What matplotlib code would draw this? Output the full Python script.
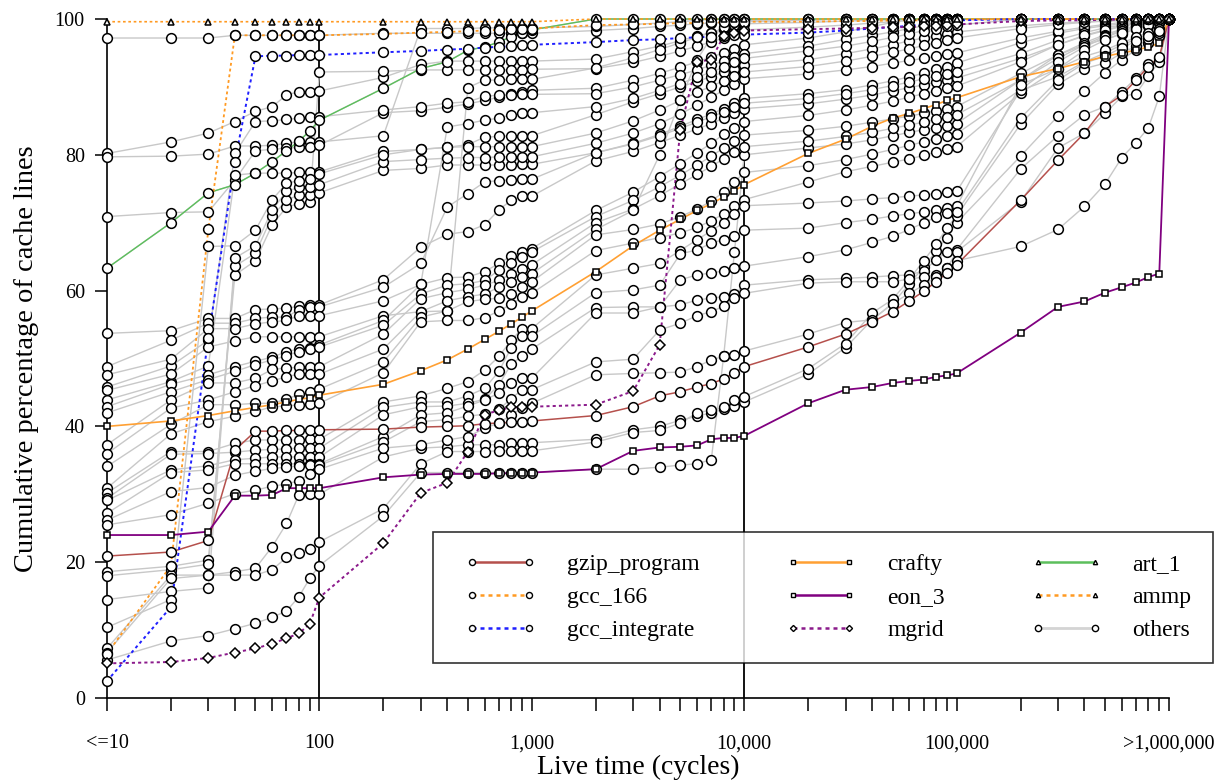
import matplotlib
matplotlib.use("Agg")
import matplotlib.pyplot as plt
from matplotlib.lines import Line2D
from matplotlib.legend_handler import HandlerLine2D
from matplotlib.ticker import FixedLocator, FixedFormatter, NullFormatter

plt.rcParams['font.family'] = ['Liberation Serif', 'DejaVu Serif']

# live time buckets (cycles)
live_time = [10, 20, 30, 40, 50, 60, 70, 80, 90, 100,
             200, 300, 400, 500, 600, 700, 800, 900, 1000,
             2000, 3000, 4000, 5000, 6000, 7000, 8000, 9000, 10000,
             20000, 30000, 40000, 50000, 60000, 70000, 80000, 90000, 100000,
             200000, 300000, 400000, 500000, 600000, 700000, 800000, 900000, 1000000]

tick_values = [10, 100, 1000, 10000, 100000, 1000000]
tick_labels = ['<=10', '100', '1,000', '10,000', '100,000', '>1,000,000']

# cumulative percentage of cache lines per benchmark
gzip_program = [20.9, 21.5, 23.2, 36.5, 39.3, 39.3, 39.4, 39.4, 39.4, 39.5,
                39.6, 39.9, 40.0, 40.1, 40.4, 40.5, 40.6, 40.7, 40.8,
                41.6, 42.9, 44.5, 45.1, 45.8, 46.3, 47.0, 47.9, 48.8,
                51.7, 53.6, 55.4, 56.9, 58.5, 59.9, 61.3, 62.6, 63.8,
                73.3, 79.2, 83.2, 87.1, 88.8, 91.0, 93.0, 94.4, 100.0]
gcc_166 = [6.5, 19.5, 69.0, 97.6, 97.6, 97.6, 97.6, 97.6, 97.6, 97.6,
           97.8, 98.0, 98.1, 98.2, 98.3, 98.4, 98.5, 98.5, 98.6,
           99.1, 99.2, 99.3, 99.4, 99.4, 99.5, 99.5, 99.6, 99.6,
           99.6, 99.7, 99.7, 99.8, 99.8, 99.8, 99.9, 99.9, 99.9,
           100, 100, 100, 100, 100, 100, 100, 100, 100]
gcc_integrate = [2.5, 13.4, 53.0, 79.0, 94.5, 94.6, 94.6, 94.7, 94.7, 94.7,
                 95.1, 95.3, 95.5, 95.6, 95.8, 95.9, 96.0, 96.1, 96.2,
                 96.6, 96.9, 97.0, 97.2, 97.3, 97.4, 97.5, 97.6, 97.7,
                 98.0, 98.3, 98.6, 98.8, 99.0, 99.2, 99.4, 99.6, 99.8,
                 100, 100, 100, 100, 100, 100, 100, 100, 100]
crafty = [40.0, 40.8, 41.6, 42.3, 42.8, 43.2, 43.6, 44.0, 44.2, 44.6,
          46.2, 48.2, 49.8, 51.4, 52.8, 54.0, 55.1, 56.1, 57.0,
          62.8, 66.6, 68.9, 70.5, 71.8, 72.8, 73.8, 74.7, 75.6,
          80.2, 82.3, 84.2, 85.4, 86.1, 86.8, 87.4, 88.0, 88.4,
          91.5, 92.7, 93.7, 94.5, 95.0, 95.4, 95.9, 96.4, 100.0]
eon_3 = [24.0, 24.0, 24.5, 29.8, 29.8, 29.9, 30.9, 30.9, 30.9, 30.9,
         32.5, 32.9, 33.0, 33.0, 33.0, 33.1, 33.1, 33.2, 33.2,
         33.7, 36.4, 36.9, 37.0, 37.2, 38.1, 38.3, 38.3, 38.6,
         43.4, 45.4, 45.8, 46.4, 46.7, 46.9, 47.3, 47.5, 47.8,
         53.8, 57.6, 58.4, 59.7, 60.5, 61.2, 62.0, 62.5, 100.0]
mgrid = [5.1, 5.3, 5.9, 6.7, 7.3, 8.0, 8.8, 9.5, 10.9, 14.8,
         22.8, 30.2, 31.7, 36.3, 41.7, 42.4, 42.8, 42.8, 42.9,
         43.2, 45.2, 52.0, 83.7, 93.7, 94.0, 97.5, 98.0, 98.3,
         98.5, 98.6, 98.7, 98.8, 98.8, 98.9, 99.0, 99.1, 99.2,
         99.7, 99.8, 99.8, 99.9, 99.9, 99.9, 100, 100, 100]
art_1 = [63.3, 70.0, 74.4, 75.6, 77.3, 79.0, 80.6, 82.0, 83.5, 85.1,
         89.8, 92.7, 93.7, 95.4, 95.9, 96.6, 97.4, 97.9, 98.4,
         100, 100, 100, 100, 100, 100, 100, 100, 100,
         100, 100, 100, 100, 100, 100, 100, 100, 100,
         100, 100, 100, 100, 100, 100, 100, 100, 100]
ammp = [99.6, 99.6, 99.6, 99.6, 99.6, 99.6, 99.6, 99.6, 99.6, 99.6,
        99.6, 99.6, 99.6, 99.6, 99.6, 99.6, 99.6, 99.6, 99.6,
        100, 100, 100, 100, 100, 100, 100, 100, 100,
        100, 100, 100, 100, 100, 100, 100, 100, 100,
        100, 100, 100, 100, 100, 100, 100, 100, 100]

others = [
    [97.2, 97.2, 97.2, 97.6, 97.6, 97.6, 97.6, 97.6, 97.6, 97.6,
     97.9, 97.9, 97.9, 97.9, 97.9, 97.9, 97.9, 97.9, 97.9,
     98.3, 98.6, 98.9, 99.1, 99.3, 99.4, 99.5, 99.7, 99.8,
     99.9, 100, 100, 100, 100, 100, 100, 100, 100,
     100, 100, 100, 100, 100, 100, 100, 100, 100],
    [80.2, 81.9, 83.2, 84.9, 86.4, 87.1, 88.8, 89.3, 89.3, 89.4,
     91.4, 93.3, 93.8, 93.8, 93.8, 93.8, 93.8, 93.8, 93.8,
     94.1, 95.2, 96.0, 96.8, 97.5, 98.0, 98.5, 98.9, 99.3,
     99.5, 99.7, 99.8, 99.9, 100, 100, 100, 100, 100,
     100, 100, 100, 100, 100, 100, 100, 100, 100],
    [79.7, 79.8, 80.1, 81.3, 81.3, 81.4, 81.7, 81.9, 81.9, 81.9,
     82.8, 98.6, 98.6, 98.6, 98.7, 98.7, 98.7, 98.7, 98.7,
     98.9, 99.2, 99.4, 99.6, 99.8, 100, 100, 100, 100,
     100, 100, 100, 100, 100, 100, 100, 100, 100,
     100, 100, 100, 100, 100, 100, 100, 100, 100],
    [70.9, 71.5, 71.6, 76.3, 80.6, 80.8, 81.0, 81.1, 81.2, 81.4,
     86.2, 86.5, 87.0, 87.5, 88.0, 88.5, 89.0, 89.3, 89.5,
     89.8, 91.0, 92.0, 92.9, 93.7, 94.4, 95.0, 95.6, 96.2,
     97.2, 98.1, 98.9, 99.5, 100, 100, 100, 100, 100,
     100, 100, 100, 100, 100, 100, 100, 100, 100],
    [45.8, 48.9, 52.7, 80.2, 84.9, 85.0, 85.2, 85.4, 85.5, 85.6,
     86.6, 87.1, 87.6, 87.8, 88.6, 88.8, 88.8, 88.9, 88.9,
     89.0, 90.0, 91.0, 91.8, 92.5, 93.2, 93.8, 94.4, 94.9,
     96.0, 97.0, 97.6, 98.1, 98.6, 99.0, 99.4, 99.7, 100,
     100, 100, 100, 100, 100, 100, 100, 100, 100],
    [43.9, 46.6, 48.9, 77.0, 77.3, 77.3, 77.3, 77.4, 77.4, 77.5,
     80.5, 80.8, 81.1, 81.5, 82.6, 82.7, 82.8, 82.8, 82.8,
     85.9, 87.8, 89.0, 90.0, 90.8, 91.5, 92.2, 92.7, 93.2,
     94.0, 94.9, 95.6, 96.2, 96.8, 97.2, 97.5, 97.8, 98.1,
     99.0, 99.4, 99.6, 99.7, 99.8, 99.9, 100, 100, 100],
    [18.6, 19.4, 20.3, 62.3, 64.4, 69.7, 72.3, 72.8, 73.0, 92.2,
     92.3, 92.5, 92.5, 92.5, 92.5, 92.5, 92.5, 92.5, 92.6,
     92.7, 93.6, 94.5, 95.3, 96.0, 96.6, 97.2, 97.8, 98.4,
     98.8, 99.1, 99.4, 99.6, 99.8, 100, 100, 100, 100,
     100, 100, 100, 100, 100, 100, 100, 100, 100],
    [18.0, 18.9, 19.7, 63.6, 65.5, 71.0, 73.3, 74.1, 74.1, 74.4,
     77.7, 78.0, 78.5, 78.5, 78.5, 78.5, 78.5, 78.6, 78.6,
     80.3, 81.7, 83.0, 84.2, 85.2, 86.0, 86.8, 87.6, 88.3,
     89.0, 89.6, 90.3, 90.9, 91.5, 92.0, 92.6, 93.0, 93.5,
     96.5, 97.9, 98.6, 99.0, 99.3, 99.5, 99.7, 99.8, 100],
    [14.5, 15.7, 16.2, 64.8, 66.6, 71.9, 74.6, 75.2, 75.3, 75.6,
     79.0, 79.3, 79.5, 79.6, 79.6, 79.7, 79.7, 79.7, 79.7,
     81.7, 83.2, 84.6, 86.0, 87.3, 88.5, 89.5, 90.4, 91.2,
     91.9, 92.5, 93.0, 93.5, 93.9, 94.2, 94.5, 94.8, 95.0,
     97.2, 98.2, 98.8, 99.2, 99.5, 99.7, 99.8, 99.9, 100],
    [10.4, 14.5, 66.5, 66.6, 68.9, 73.4, 75.8, 76.2, 76.5, 77.2,
     80.0, 80.8, 81.1, 81.2, 81.2, 81.2, 81.2, 81.2, 81.2,
     83.2, 85.0, 86.6, 88.0, 89.2, 90.1, 90.9, 91.6, 92.2,
     93.0, 93.8, 94.5, 95.1, 95.6, 96.1, 96.5, 96.9, 97.2,
     98.6, 99.2, 99.5, 99.7, 99.8, 99.9, 100, 100, 100],
    [7.3, 18.1, 18.1, 18.6, 19.1, 22.3, 25.7, 29.9, 30.0, 30.0,
     35.5, 36.8, 37.0, 37.3, 37.3, 37.3, 37.5, 37.6, 37.6,
     38.1, 39.5, 40.0, 40.9, 41.5, 42.0, 42.5, 43.0, 43.6,
     47.7, 51.6, 55.7, 58.1, 61.0, 63.5, 65.8, 67.8, 70.0,
     79.8, 85.7, 89.4, 92.1, 94.0, 95.5, 96.5, 97.5, 100],
    [6.7, 17.6, 18.1, 18.1, 18.1, 18.9, 20.7, 21.4, 22.0, 23.0,
     27.9, 34.5, 36.3, 36.3, 36.3, 36.4, 36.4, 36.4, 36.4,
     37.7, 39.1, 39.4, 40.5, 42.0, 42.4, 42.8, 43.9, 44.4,
     48.5, 52.2, 56.7, 58.7, 61.7, 64.4, 66.8, 69.2, 71.0,
     84.5, 90.4, 92.7, 93.5, 95.0, 96.0, 97.0, 98.0, 100],
    [5.6, 8.4, 9.2, 10.2, 11.0, 11.9, 12.8, 14.9, 17.6, 19.5,
     26.8, 33.2, 33.2, 33.2, 33.2, 33.2, 33.2, 33.2, 33.2,
     33.7, 33.7, 34.0, 34.3, 34.5, 35.1, 50.3, 65.7, 80.0,
     81.0, 81.6, 82.2, 82.8, 83.3, 83.7, 84.0, 84.3, 84.6,
     91.0, 94.7, 96.2, 97.0, 97.8, 98.5, 99.0, 99.5, 100],
    [53.7, 54.1, 55.9, 55.9, 57.2, 57.3, 57.4, 57.7, 57.9, 57.9,
     61.6, 66.4, 68.3, 68.7, 69.7, 71.9, 73.3, 73.9, 73.9,
     79.1, 80.5, 81.8, 82.9, 83.8, 84.6, 85.4, 86.1, 86.8,
     87.5, 88.2, 88.8, 89.4, 89.9, 90.3, 90.7, 91.0, 91.3,
     94.2, 96.2, 97.5, 98.3, 98.9, 99.3, 99.6, 99.8, 100],
    [48.8, 52.7, 55.2, 55.2, 55.9, 56.1, 56.1, 57.2, 57.6, 57.6,
     60.5, 64.0, 72.3, 74.3, 76.0, 76.2, 76.3, 76.4, 76.4,
     80.3, 81.6, 82.8, 83.9, 84.8, 85.6, 86.3, 87.0, 87.6,
     88.3, 89.0, 89.6, 90.2, 90.7, 91.2, 91.6, 91.9, 92.2,
     94.9, 96.9, 98.0, 98.7, 99.1, 99.4, 99.7, 99.9, 100],
    [47.6, 49.9, 54.4, 54.4, 55.1, 55.4, 55.6, 56.3, 56.3, 56.3,
     58.5, 60.9, 84.1, 84.6, 85.1, 85.4, 85.9, 86.2, 86.2,
     87.1, 88.3, 89.5, 90.5, 91.4, 92.2, 92.9, 93.6, 94.2,
     95.3, 96.0, 96.7, 97.3, 97.8, 98.3, 98.6, 98.9, 99.1,
     100, 100, 100, 100, 100, 100, 100, 100, 100],
    [45.3, 47.7, 51.7, 52.6, 53.2, 53.2, 53.2, 53.2, 53.2, 53.2,
     56.3, 56.9, 57.0, 89.9, 91.0, 91.0, 91.1, 91.1, 91.1,
     92.8, 94.3, 95.5, 96.5, 97.3, 98.0, 98.6, 99.1, 99.6,
     99.8, 100, 100, 100, 100, 100, 100, 100, 100,
     100, 100, 100, 100, 100, 100, 100, 100, 100],
    [42.9, 46.2, 47.6, 48.8, 49.6, 50.2, 51.0, 51.4, 51.6, 52.0,
     55.6, 60.9, 61.9, 62.0, 62.8, 64.0, 65.1, 65.7, 66.2,
     71.8, 74.5, 76.8, 78.7, 80.3, 81.7, 83.0, 84.0, 84.9,
     85.8, 86.6, 87.3, 87.9, 88.5, 89.0, 89.4, 89.8, 90.1,
     93.7, 96.2, 97.6, 98.4, 99.0, 99.4, 99.7, 99.9, 100],
    [42.0, 45.1, 46.9, 48.1, 49.1, 49.8, 50.4, 51.0, 51.4, 51.7,
     54.9, 59.5, 60.8, 61.0, 61.5, 63.0, 64.0, 65.0, 65.7,
     70.9, 73.3, 75.3, 77.0, 78.5, 79.8, 81.0, 82.0, 82.9,
     83.6, 84.2, 84.8, 85.3, 85.7, 86.1, 86.5, 86.8, 87.1,
     92.0, 94.7, 96.5, 97.7, 98.5, 99.0, 99.4, 99.7, 100],
    [37.3, 43.9, 46.4, 46.4, 47.1, 48.4, 48.6, 48.7, 48.8, 48.8,
     53.6, 58.8, 59.7, 60.2, 60.8, 61.5, 62.5, 63.2, 63.8,
     70.0, 72.0, 74.0, 75.7, 77.1, 78.3, 79.4, 80.4, 81.2,
     82.0, 82.7, 83.3, 83.9, 84.4, 84.8, 85.2, 85.6, 85.9,
     91.0, 94.2, 96.2, 97.5, 98.3, 98.9, 99.3, 99.6, 100],
    [36.0, 42.7, 43.9, 45.1, 46.0, 46.7, 47.3, 47.7, 47.7, 47.7,
     51.4, 56.9, 58.5, 59.1, 59.5, 60.5, 61.2, 62.0, 62.5,
     69.0, 71.8, 80.0, 88.0, 94.0, 97.3, 98.8, 99.5, 100,
     100, 100, 100, 100, 100, 100, 100, 100, 100,
     100, 100, 100, 100, 100, 100, 100, 100, 100],
    [34.1, 40.3, 43.2, 43.2, 43.4, 43.4, 44.0, 44.7, 45.0, 45.5,
     49.5, 56.1, 57.0, 58.4, 58.7, 58.9, 59.5, 60.5, 61.3,
     68.2, 69.0, 69.8, 70.9, 72.0, 73.2, 74.5, 76.0, 77.4,
     78.4, 79.3, 80.1, 80.8, 81.4, 81.9, 82.4, 82.8, 83.1,
     89.6, 93.7, 95.9, 97.3, 98.2, 98.8, 99.3, 99.6, 100],
    [30.9, 38.9, 40.7, 41.5, 42.2, 42.9, 43.0, 43.2, 43.3, 43.4,
     47.9, 55.4, 55.6, 55.6, 56.0, 57.0, 58.0, 59.0, 59.6,
     65.9, 67.0, 67.8, 68.5, 69.3, 70.3, 71.3, 72.4, 73.4,
     76.0, 77.5, 78.3, 78.9, 79.4, 79.9, 80.4, 80.8, 81.2,
     89.1, 92.7, 95.4, 96.9, 97.9, 98.6, 99.1, 99.5, 100],
    [30.2, 36.3, 36.3, 37.5, 38.0, 38.0, 38.0, 38.0, 38.1, 38.1,
     43.6, 44.5, 45.6, 46.6, 48.3, 50.3, 52.7, 54.4, 54.4,
     62.3, 63.3, 64.0, 65.9, 67.5, 68.8, 70.0, 71.3, 72.5,
     72.9, 73.2, 73.5, 73.7, 73.9, 74.1, 74.3, 74.5, 74.6,
     89.5, 91.5, 93.7, 95.0, 96.2, 97.0, 97.8, 98.5, 100],
    [29.4, 35.9, 36.0, 36.2, 36.5, 36.6, 36.7, 36.8, 36.8, 36.8,
     42.8, 43.6, 43.6, 44.5, 45.6, 48.1, 51.6, 53.3, 53.3,
     59.7, 60.1, 60.8, 65.4, 66.0, 67.0, 67.5, 68.0, 68.9,
     69.2, 70.0, 70.5, 71.0, 71.3, 71.6, 71.9, 72.1, 72.4,
     90.3, 92.7, 94.5, 95.4, 96.5, 97.3, 98.0, 98.6, 100],
    [29.1, 33.6, 34.2, 35.1, 35.3, 35.5, 35.5, 35.5, 35.5, 35.5,
     41.7, 42.9, 43.0, 43.4, 44.0, 46.1, 49.2, 50.3, 51.4,
     57.5, 57.6, 57.6, 61.6, 62.3, 62.6, 62.9, 63.4, 63.6,
     65.0, 66.0, 67.1, 68.0, 69.0, 70.0, 70.8, 71.5, 71.6,
     85.4, 91.0, 93.5, 94.5, 95.8, 96.7, 97.5, 98.3, 100],
    [27.2, 33.2, 33.6, 34.5, 34.5, 34.5, 34.5, 34.5, 34.5, 34.5,
     38.5, 41.7, 42.0, 43.0, 43.9, 44.9, 46.4, 47.1, 47.1,
     56.7, 56.7, 57.6, 57.9, 58.6, 58.9, 59.1, 59.5, 60.8,
     61.6, 61.8, 62.0, 62.2, 62.3, 62.9, 64.5, 65.7, 66.0,
     77.9, 82.8, 85.9, 87.1, 89.3, 91.3, 93.4, 94.2, 100],
    [26.2, 30.4, 31.0, 32.8, 33.4, 33.8, 34.0, 34.2, 34.3, 34.3,
     37.7, 40.7, 41.0, 41.5, 41.8, 42.5, 44.1, 45.4, 45.4,
     49.5, 49.9, 54.2, 55.2, 56.3, 56.9, 57.7, 58.9, 59.6,
     61.1, 61.3, 61.3, 61.3, 61.7, 62.0, 62.3, 63.3, 65.7,
     73.1, 81.0, 83.2, 86.1, 88.6, 89.0, 91.6, 93.7, 100],
    [25.5, 27.0, 28.7, 30.1, 30.6, 31.2, 31.5, 32.0, 33.0, 33.7,
     36.8, 37.3, 38.0, 38.5, 39.7, 40.5, 41.7, 42.7, 43.4,
     47.6, 47.8, 47.9, 48.0, 48.8, 49.8, 50.3, 50.5, 51.1,
     53.6, 55.3, 55.7, 58.1, 59.6, 60.8, 62.0, 63.3, 64.4,
     66.5, 69.0, 72.4, 75.7, 79.6, 81.8, 84.0, 88.6, 100],
]

# a further benchmark follows exactly the art_1 curve
others.append(list(art_1))

styles = [
    ('gzip_program', gzip_program, dict(color='#b5504c', ls='-', lw=1.1, marker='o', ms=7.0)),
    ('gcc_166', gcc_166, dict(color='#ff9a22', ls=(0, (1.6, 1.6)), lw=1.3, marker='o', ms=7.0)),
    ('gcc_integrate', gcc_integrate, dict(color='#1f1fff', ls=(0, (1.6, 1.6)), lw=1.4, marker='o', ms=7.0)),
    ('crafty', crafty, dict(color='#ffa033', ls='-', lw=1.2, marker='s', ms=4.8)),
    ('eon_3', eon_3, dict(color='#800080', ls='-', lw=1.3, marker='s', ms=4.8)),
    ('mgrid', mgrid, dict(color='#8b1a8b', ls=(0, (1.6, 1.6)), lw=1.4, marker='D', ms=5.0)),
    ('art_1', art_1, dict(color='#5cbf5c', ls='-', lw=1.0, marker='^', ms=5.0)),
    ('ammp', ammp, dict(color='#ff9a22', ls=(0, (1.6, 1.6)), lw=1.2, marker='^', ms=5.0)),
]
others_style = dict(color='#c8c8c8', ls='-', lw=1.0, marker='o', ms=7.0)

fig = plt.figure(figsize=(12.27, 7.82), dpi=100)
ax = fig.add_axes([107 / 1227, 1 - 698 / 782, (1169 - 107) / 1227, (698 - 19) / 782])
ax.set_xscale('log')
ax.set_xlim(10, 1000000)
ax.set_ylim(0, 100)

ax.axvline(100, color='black', lw=1.3, zorder=1.5)
ax.axvline(10000, color='black', lw=1.3, zorder=1.5)


def draw(values, st, line_z, mark_z):
    ax.plot(live_time, values, color=st['color'], ls=st['ls'], lw=st['lw'],
            zorder=line_z, clip_on=False)
    ax.plot(live_time, values, ls='none', marker=st['marker'], ms=st['ms'],
            mfc='white', mec='black', mew=1.1, zorder=mark_z, clip_on=False)


# lines first, then markers, so circles stay clean
draw(art_1, styles[6][2], 2.2, 3.0)
for series in others:
    draw(series, others_style, 2.0, 3.1)
for name, values, st in styles:
    if name == 'art_1':
        continue
    draw(values, st, 2.4, 3.5)

for side in ('top', 'right'):
    ax.spines[side].set_visible(False)
for side in ('left', 'bottom'):
    ax.spines[side].set_linewidth(1.2)

ax.xaxis.set_major_locator(FixedLocator(tick_values))
ax.xaxis.set_major_formatter(FixedFormatter(tick_labels))
ax.xaxis.set_minor_locator(FixedLocator([v for v in live_time if v not in tick_values]))
ax.xaxis.set_minor_formatter(NullFormatter())
ax.set_yticks([0, 20, 40, 60, 80, 100])
ax.tick_params(axis='both', which='both', direction='out', length=9, width=1.1,
               labelsize=14.5, color='black')
ax.tick_params(axis='x', which='both', pad=17)
ax.tick_params(axis='y', pad=7)

ax.set_xlabel('Live time (cycles)', fontsize=20, labelpad=1)
ax.set_ylabel('Cumulative percentage of cache lines', fontsize=20.5, labelpad=11)

handles = []
for name, values, st in styles:
    handles.append(Line2D([], [], color=st['color'], ls=st['ls'], lw=max(st['lw'], 1.8),
                          marker=st['marker'], ms=st['ms'] * 0.62, mfc='white',
                          mec='black', mew=1.0, label=name))
handles.append(Line2D([], [], color='#d4d4d4', ls='-', lw=2.0, marker='o', ms=4.5,
                      mfc='white', mec='black', mew=1.0, label='others'))

leg = fig.legend(handles=handles, ncol=3, loc='upper left',
                 bbox_to_anchor=(433 / 1227, 1 - 532 / 782), borderaxespad=0,
                 fontsize=17, frameon=True, fancybox=False, edgecolor='black',
                 handlelength=3.9, handletextpad=0.85, columnspacing=3.2,
                 labelspacing=0.49, borderpad=0.92,
                 handler_map={Line2D: HandlerLine2D(marker_pad=0.75, numpoints=2)})
leg.get_frame().set_linewidth(1.2)

fig.savefig('out.png', dpi=100)
